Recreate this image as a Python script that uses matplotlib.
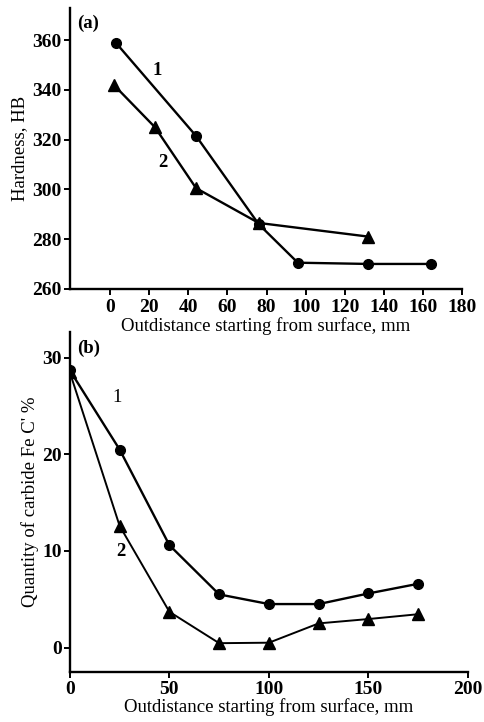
import matplotlib
matplotlib.use("Agg")
import matplotlib.pyplot as plt

plt.rcParams['font.family'] = ['Liberation Serif', 'DejaVu Serif']

# panel (a): hardness
a_x1 = [3, 44, 76, 96, 132, 164]
a_y1 = [359, 321.5, 286, 270.5, 270, 270]
a_x2 = [2, 23, 44, 76, 132]
a_y2 = [342, 325, 300.5, 286.5, 281]
a_xticks = [0, 20, 40, 60, 80, 100, 120, 140, 160, 180]
a_yticks = [260, 280, 300, 320, 340, 360]

# panel (b): carbide quantity
b_x = [0, 25, 50, 75, 100, 125, 150, 175]
b_y1 = [28.7, 20.5, 10.6, 5.5, 4.5, 4.5, 5.6, 6.6]
b_y2 = [28.5, 12.6, 3.7, 0.45, 0.5, 2.5, 2.95, 3.45]
b_xticks = [0, 50, 100, 150, 200]
b_yticks = [0, 10, 20, 30]

fig = plt.figure(figsize=(4.85, 7.22), dpi=100)
ax1 = fig.add_axes([0.144, 0.600, 0.809, 0.389])
ax2 = fig.add_axes([0.144, 0.0697, 0.821, 0.4709])
# the top label overlaps panel (b) slightly, keep it visible
ax2.patch.set_visible(False)
ax1.set_zorder(2)

line_kw = dict(color='black', lw=1.7)
fs = 13.5
tfs = 14


def style(ax):
    for s in ('top', 'right'):
        ax.spines[s].set_visible(False)
    for s in ('left', 'bottom'):
        ax.spines[s].set_linewidth(1.7)
    ax.tick_params(direction='out', length=4, width=1.4, labelsize=tfs, pad=2)
    ax.tick_params(axis='x', pad=3)
    for lab in ax.get_xticklabels() + ax.get_yticklabels():
        lab.set_fontweight('bold')


ax1.plot(a_x1, a_y1, marker='o', ms=7, **line_kw)
ax1.plot(a_x2, a_y2, marker='^', ms=8, **line_kw)
ax1.set_xlim(-20.5, 180)
ax1.set_ylim(260, 373)
ax1.set_xticks(a_xticks)
ax1.set_yticks(a_yticks)
style(ax1)
ax1.set_xlabel('Outdistance starting from surface, mm', fontsize=fs, labelpad=1)
ax1.set_ylabel('Hardness, HB', fontsize=fs, labelpad=3)
ax1.text(-17, 367, '(a)', fontsize=fs, fontweight='bold', va='center')
ax1.text(24, 348, '1', fontsize=fs, fontweight='bold', ha='center', va='center')
ax1.text(27, 311, '2', fontsize=fs, fontweight='bold', ha='center', va='center')

ax2.plot(b_x, b_y1, marker='o', ms=7, **line_kw)
ax2.plot(b_x, b_y2, marker='^', ms=8, lw=1.4, color='black')
ax2.set_xlim(0, 200)
ax2.set_ylim(-2.5, 32.7)
ax2.set_xticks(b_xticks)
ax2.set_yticks(b_yticks)
style(ax2)
ax2.set_xlabel('Outdistance starting from surface, mm', fontsize=fs, labelpad=0)
ax2.set_ylabel("Quantity of carbide Fe C' %", fontsize=fs, labelpad=2)
ax2.text(3.5, 31, '(b)', fontsize=fs, fontweight='bold', va='center')
ax2.text(23.6, 25.9, '1', fontsize=fs, ha='center', va='center')
ax2.text(25.6, 9.9, '2', fontsize=fs, fontweight='bold', ha='center', va='center')

fig.savefig('out.png', dpi=100)
